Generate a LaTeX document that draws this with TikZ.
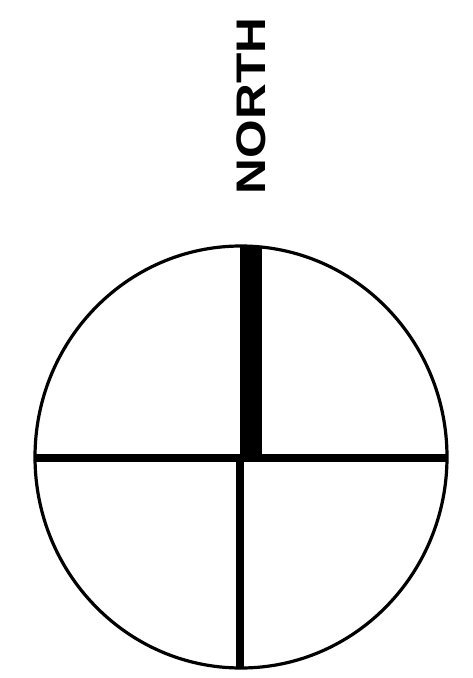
\documentclass[tikz,border=0pt]{standalone}
\usepackage{fontspec}
\setmainfont{Liberation Sans}
\usepackage{tikz}

\tikzset{
  rim/.style={line width=2.4pt},
  crossline/.style={line width=6pt},
  label/.style={font=\fontsize{31}{31}\selectfont\bfseries, inner sep=0pt, rotate=90}
}

\begin{document}
\begin{tikzpicture}[x=0.75pt, y=-0.75pt]
  \useasboundingbox (0,0) rectangle (473,678);
  % Define coordinates
  \coordinate (C) at (241,457); % centre of dial
  \coordinate (W) at (35,458);  % west point
  \coordinate (E) at (447,458); % east point
  \coordinate (S) at (240,667); % south point

  % North label
  \node[label] (north) at (251,106) {\scalebox{1.2}[1]{NORTH}};

  % Dial
  \draw[rim] (C) ellipse [x radius=206, y radius=211];

  % Cross lines
  \draw[crossline] (W) -- (E);
  \draw[crossline] (240,458) -- (S);

  % Heavy north bar
  \fill (240,246) rectangle (262,456);
\end{tikzpicture}
\end{document}
